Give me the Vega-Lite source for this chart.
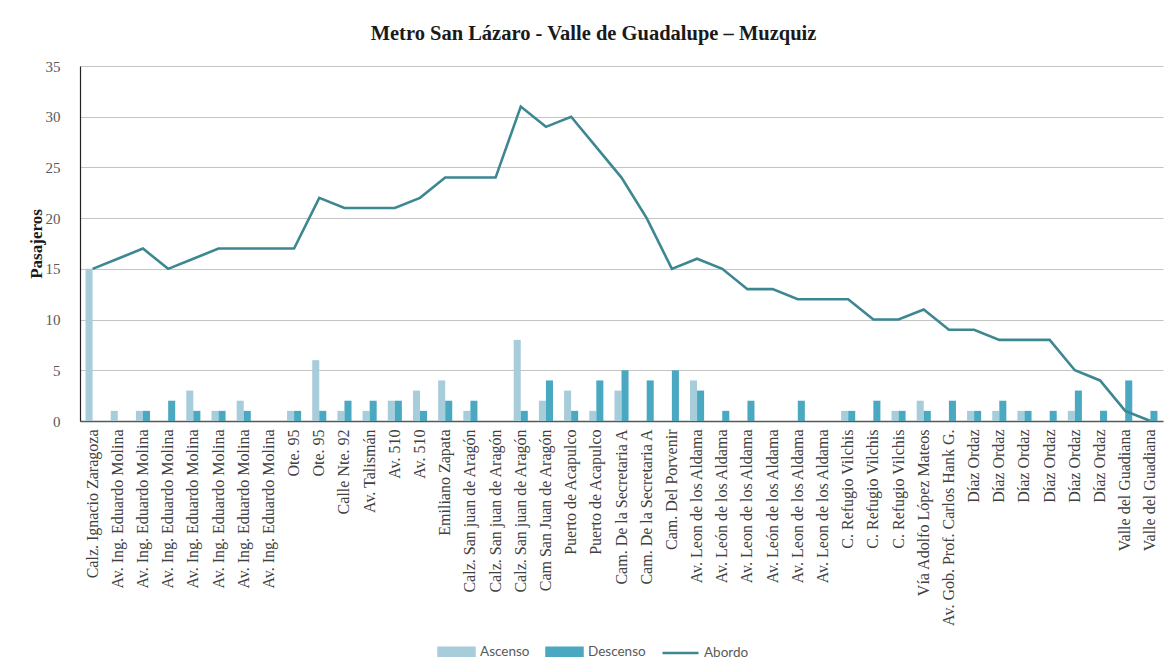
{
  "$schema": "https://vega.github.io/schema/vega-lite/v6.json",
  "width": 1083,
  "height": 355,
  "autosize": {"type": "none"},
  "padding": {"left": 80, "top": 66, "right": 4, "bottom": 250},
  "background": "white",
  "title": {
    "text": "Metro San Lázaro - Valle de Guadalupe  – Muzquiz",
    "font": "Liberation Serif",
    "fontSize": 20.5,
    "fontWeight": "bold",
    "color": "#1a1a1a",
    "anchor": "middle",
    "dx": -28,
    "offset": 15
  },
  "config": {
    "view": {"stroke": null}
  },
  "data": {
    "values": [
      {"k": "01 Calz. Ignacio Zaragoza", "Ascenso": 15, "Descenso": 0, "Abordo": 15},
      {"k": "02 Av. Ing. Eduardo Molina", "Ascenso": 1, "Descenso": 0, "Abordo": 16},
      {"k": "03 Av. Ing. Eduardo Molina", "Ascenso": 1, "Descenso": 1, "Abordo": 17},
      {"k": "04 Av. Ing. Eduardo Molina", "Ascenso": 0, "Descenso": 2, "Abordo": 15},
      {"k": "05 Av. Ing. Eduardo Molina", "Ascenso": 3, "Descenso": 1, "Abordo": 16},
      {"k": "06 Av. Ing. Eduardo Molina", "Ascenso": 1, "Descenso": 1, "Abordo": 17},
      {"k": "07 Av. Ing. Eduardo Molina", "Ascenso": 2, "Descenso": 1, "Abordo": 17},
      {"k": "08 Av. Ing. Eduardo Molina", "Ascenso": 0, "Descenso": 0, "Abordo": 17},
      {"k": "09 Ote. 95", "Ascenso": 1, "Descenso": 1, "Abordo": 17},
      {"k": "10 Ote. 95", "Ascenso": 6, "Descenso": 1, "Abordo": 22},
      {"k": "11 Calle Nte. 92", "Ascenso": 1, "Descenso": 2, "Abordo": 21},
      {"k": "12 Av. Talismán", "Ascenso": 1, "Descenso": 2, "Abordo": 21},
      {"k": "13 Av. 510", "Ascenso": 2, "Descenso": 2, "Abordo": 21},
      {"k": "14 Av. 510", "Ascenso": 3, "Descenso": 1, "Abordo": 22},
      {"k": "15 Emiliano Zapata", "Ascenso": 4, "Descenso": 2, "Abordo": 24},
      {"k": "16 Calz. San juan de Aragón", "Ascenso": 1, "Descenso": 2, "Abordo": 24},
      {"k": "17 Calz. San juan de Aragón", "Ascenso": 0, "Descenso": 0, "Abordo": 24},
      {"k": "18 Calz. San juan de Aragón", "Ascenso": 8, "Descenso": 1, "Abordo": 31},
      {"k": "19 Cam San Juan de Aragón", "Ascenso": 2, "Descenso": 4, "Abordo": 29},
      {"k": "20 Puerto de Acapulco", "Ascenso": 3, "Descenso": 1, "Abordo": 30},
      {"k": "21 Puerto de Acapulco", "Ascenso": 1, "Descenso": 4, "Abordo": 27},
      {"k": "22 Cam. De la Secretaria A", "Ascenso": 3, "Descenso": 5, "Abordo": 24},
      {"k": "23 Cam. De la Secretaria A", "Ascenso": 0, "Descenso": 4, "Abordo": 20},
      {"k": "24 Cam. Del Porvenir", "Ascenso": 0, "Descenso": 5, "Abordo": 15},
      {"k": "25 Av. Leon de los Aldama", "Ascenso": 4, "Descenso": 3, "Abordo": 16},
      {"k": "26 Av. León de los Aldama", "Ascenso": 0, "Descenso": 1, "Abordo": 15},
      {"k": "27 Av. Leon de los Aldama", "Ascenso": 0, "Descenso": 2, "Abordo": 13},
      {"k": "28 Av. León de los Aldama", "Ascenso": 0, "Descenso": 0, "Abordo": 13},
      {"k": "29 Av. Leon de los Aldama", "Ascenso": 0, "Descenso": 2, "Abordo": 12},
      {"k": "30 Av. Leon de los Aldama", "Ascenso": 0, "Descenso": 0, "Abordo": 12},
      {"k": "31 C. Refugio Vilchis", "Ascenso": 1, "Descenso": 1, "Abordo": 12},
      {"k": "32 C. Refugio Vilchis", "Ascenso": 0, "Descenso": 2, "Abordo": 10},
      {"k": "33 C. Refugio Vilchis", "Ascenso": 1, "Descenso": 1, "Abordo": 10},
      {"k": "34 Vía Adolfo López Mateos", "Ascenso": 2, "Descenso": 1, "Abordo": 11},
      {"k": "35 Av. Gob. Prof. Carlos Hank G.", "Ascenso": 0, "Descenso": 2, "Abordo": 9},
      {"k": "36 Díaz Ordaz", "Ascenso": 1, "Descenso": 1, "Abordo": 9},
      {"k": "37 Díaz Ordaz", "Ascenso": 1, "Descenso": 2, "Abordo": 8},
      {"k": "38 Díaz Ordaz", "Ascenso": 1, "Descenso": 1, "Abordo": 8},
      {"k": "39 Díaz Ordaz", "Ascenso": 0, "Descenso": 1, "Abordo": 8},
      {"k": "40 Díaz Ordaz", "Ascenso": 1, "Descenso": 3, "Abordo": 5},
      {"k": "41 Díaz Ordaz", "Ascenso": 0, "Descenso": 1, "Abordo": 4},
      {"k": "42 Valle del Guadiana", "Ascenso": 0, "Descenso": 4, "Abordo": 1},
      {"k": "43 Valle del Guadiana", "Ascenso": 0, "Descenso": 1, "Abordo": 0}
    ]
  },
  "transform": [{"fold": ["Ascenso", "Descenso", "Abordo"], "as": ["serie", "val"]}],
  "encoding": {
    "x": {
      "field": "k",
      "type": "nominal",
      "sort": "ascending",
      "scale": {"paddingInner": 0.44, "paddingOuter": 0.22},
      "axis": {
        "title": null,
        "labelExpr": "substring(datum.value, 3)",
        "labelAngle": -90,
        "labelFont": "Liberation Serif",
        "labelFontSize": 16,
        "labelColor": "#404040",
        "labelPadding": 8,
        "ticks": false,
        "domainColor": "#595959",
        "domainWidth": 1.5,
        "labelOverlap": false,
        "labelLimit": 300
      }
    },
    "y": {
      "field": "val",
      "type": "quantitative",
      "scale": {"domain": [0, 35]},
      "axis": {
        "title": "Pasajeros",
        "titleFont": "Liberation Serif",
        "titleFontSize": 17,
        "titleFontWeight": "bold",
        "titleColor": "#1a1a1a",
        "titlePadding": 0,
        "values": [0, 5, 10, 15, 20, 25, 30, 35],
        "labelFont": "Liberation Serif",
        "labelFontSize": 15,
        "labelColor": "#595959",
        "labelPadding": 20,
        "ticks": false,
        "domainColor": "#222222",
        "domainWidth": 1.2,
        "gridColor": "#c4c4c4",
        "gridWidth": 1
      }
    },
    "color": {
      "field": "serie",
      "type": "nominal",
      "scale": {
        "domain": ["Ascenso", "Descenso", "Abordo"],
        "range": ["#a7cddb", "#4ba8c1", "#3d8792"]
      },
      "legend": {
        "title": null,
        "orient": "none",
        "legendX": 365,
        "legendY": 574,
        "direction": "horizontal",
        "labelFont": "Lato",
        "labelFontSize": 13.5,
        "labelColor": "#595959",
        "symbolSize": 400,
        "labelOffset": 12,
        "columnPadding": 11,
        "symbolStrokeWidth": 2.5,
        "encode": {
          "symbols": {
            "update": {
              "shape": {"signal": "datum.value === 'Abordo' ? 'M-1.8,0H1.8' : 'M-1.8,-0.4H1.8V0.4H-1.8Z'"},
              "fill": {"signal": "datum.value === 'Abordo' ? 'transparent' : scale('color', datum.value)"},
              "stroke": {"signal": "datum.value === 'Abordo' ? scale('color', datum.value) : 'transparent'"},
              "strokeWidth": {"value": 2.5},
              "opacity": {"value": 1},
              "fillOpacity": {"value": 1}
            }
          }
        }
      }
    }
  },
  "layer": [
    {
      "transform": [{"filter": "datum.serie !== 'Abordo'"}],
      "mark": {"type": "bar"},
      "encoding": {
        "xOffset": {"field": "serie", "type": "nominal", "sort": ["Ascenso", "Descenso"]}
      }
    },
    {
      "transform": [{"filter": "datum.serie === 'Abordo'"}],
      "mark": {"type": "line", "strokeWidth": 2.6}
    }
  ]
}
